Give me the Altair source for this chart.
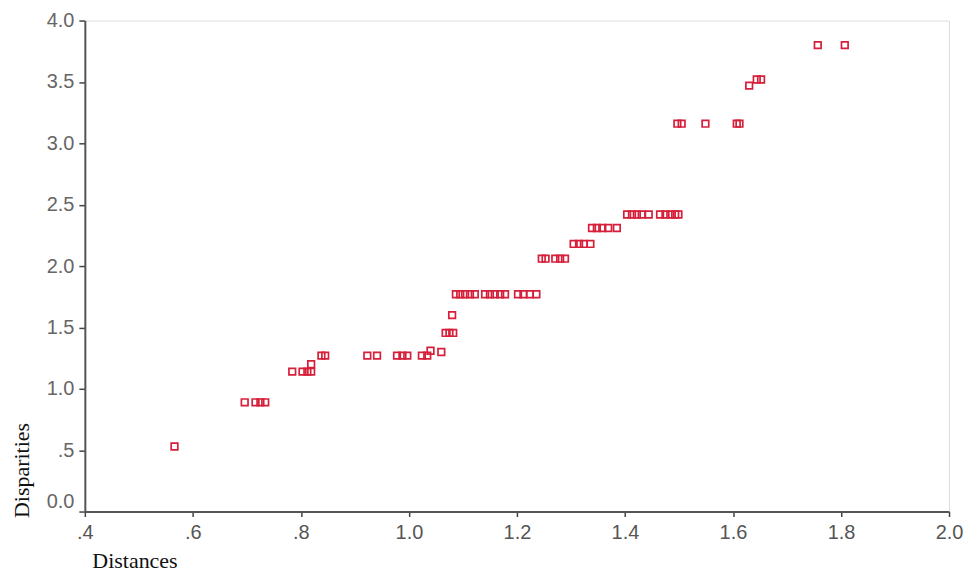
import altair as alt
import pandas as pd

distances = [
    0.566,
    0.696, 0.716, 0.725, 0.734,
    0.784, 0.803, 0.812, 0.819,
    0.819,
    0.838, 0.845, 0.923, 0.941, 0.978, 0.988, 0.997, 1.024, 1.034,
    1.040, 1.060,
    1.068, 1.075, 1.082,
    1.080,
    1.087, 1.095, 1.104, 1.113, 1.122, 1.141, 1.150, 1.159, 1.169, 1.178, 1.202, 1.212, 1.224, 1.236,
    1.246, 1.253, 1.271, 1.280, 1.289,
    1.305, 1.315, 1.324, 1.336,
    1.339, 1.348, 1.358, 1.369, 1.385,
    1.404, 1.413, 1.422, 1.431, 1.444, 1.465, 1.475, 1.484, 1.493, 1.499,
    1.497, 1.505, 1.549, 1.607, 1.612,
    1.630,
    1.644, 1.652,
    1.757, 1.807,
]
disparities = [
    0.53,
    0.89, 0.89, 0.89, 0.89,
    1.14, 1.14, 1.14, 1.14,
    1.20,
    1.27, 1.27, 1.27, 1.27, 1.27, 1.27, 1.27, 1.27, 1.27,
    1.31, 1.30,
    1.455, 1.455, 1.455,
    1.60,
    1.77, 1.77, 1.77, 1.77, 1.77, 1.77, 1.77, 1.77, 1.77, 1.77, 1.77, 1.77, 1.77, 1.77,
    2.06, 2.06, 2.06, 2.06, 2.06,
    2.18, 2.18, 2.18, 2.18,
    2.31, 2.31, 2.31, 2.31, 2.31,
    2.42, 2.42, 2.42, 2.42, 2.42, 2.42, 2.42, 2.42, 2.42, 2.42,
    3.16, 3.16, 3.16, 3.16, 3.16,
    3.47,
    3.52, 3.52,
    3.80, 3.80,
]

x_ticks = [0.4, 0.6, 0.8, 1.0, 1.2, 1.4, 1.6, 1.8, 2.0]
y_ticks = [0.0, 0.5, 1.0, 1.5, 2.0, 2.5, 3.0, 3.5, 4.0]

df = pd.DataFrame({"Distances": distances, "Disparities": disparities})

lbl = "datum.value > 0 && datum.value < 1 ? replace(format(datum.value, '.1f'), '0.', '.') : format(datum.value, '.1f')"

chart = alt.Chart(df).mark_point(
    shape="square", filled=False, size=44, strokeWidth=1.7, color="#d61f3a", opacity=1
).encode(
    x=alt.X("Distances:Q",
            scale=alt.Scale(domain=[0.4, 2.0], nice=False, zero=False),
            axis=alt.Axis(values=x_ticks, labelExpr=lbl, grid=False,
                          title="Distances", titleFont="Liberation Serif",
                          titleFontSize=22, titleFontWeight="normal", titleColor="#111",
                          titleAnchor="start", titleAlign="left", titleBaseline="alphabetic",
                          titleX=7, titleY=56,
                          labelFont="Liberation Sans", labelFontSize=20, labelColor="#555",
                          labelPadding=6, tickSize=5, tickColor="#444", tickWidth=1.5,
                          domainColor="#555", domainWidth=2, labelFlush=False)),
    y=alt.Y("Disparities:Q",
            scale=alt.Scale(domain=[0, 4], nice=False),
            axis=alt.Axis(values=y_ticks, labelExpr=lbl, grid=False,
                          title="Disparities", titleFont="Liberation Serif",
                          titleFontSize=22, titleFontWeight="normal", titleColor="#111",
                          titleAngle=270, titleAlign="left", titleBaseline="middle",
                          titleX=-63, titleY=498,
                          labelFont="Liberation Sans", labelFontSize=20, labelColor="#666",
                          labelPadding=5, tickSize=6, tickColor="#444", tickWidth=1.5,
                          labelBaseline=alt.expr("datum.value == 0 ? 'bottom' : 'middle'"),
                          domainColor="#555", domainWidth=2, labelFlush=False)),
).properties(
    width=866, height=492,
    autosize=alt.AutoSizeParams(type="none"),
    padding={"left": 77, "top": 12, "right": 15, "bottom": 60},
).configure_view(
    stroke="#777777", strokeWidth=2.5
).configure(background="white")

chart.save("out.html", embed_options={"renderer": "svg", "actions": False})
